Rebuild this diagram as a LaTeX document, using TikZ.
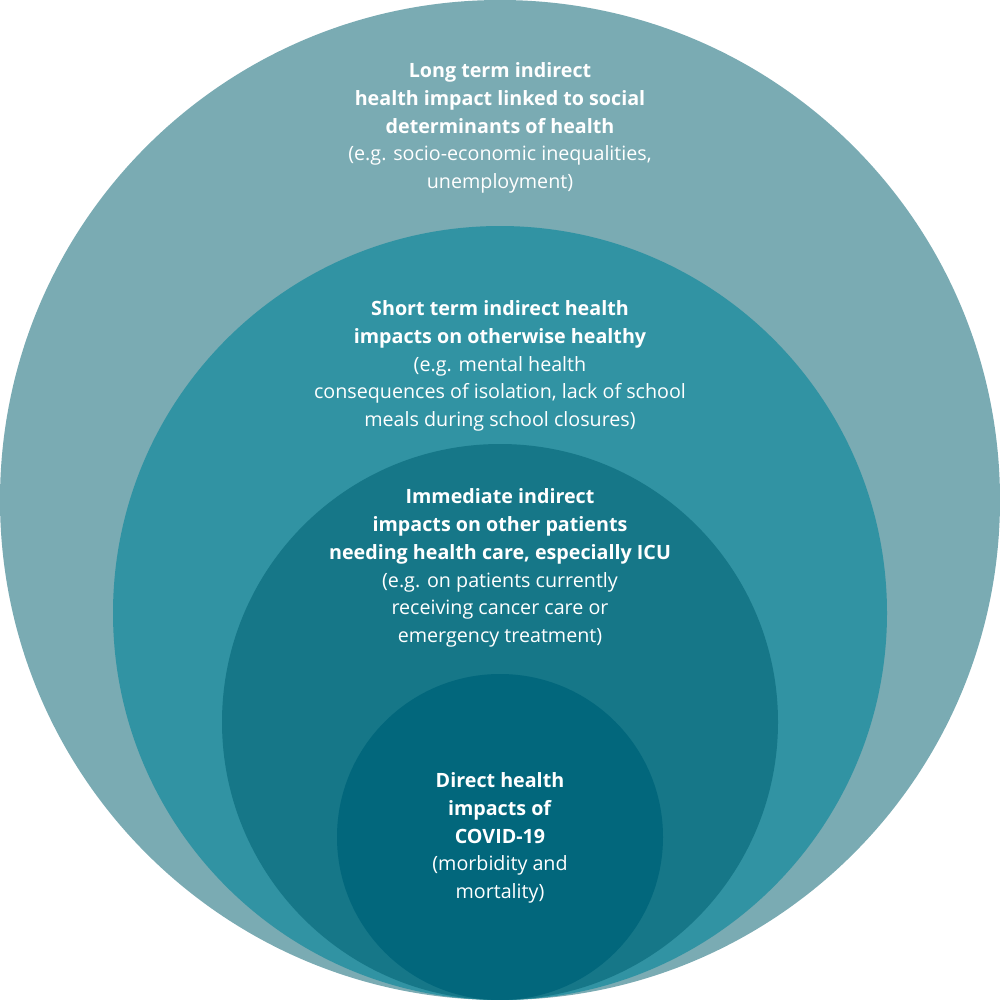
\documentclass[tikz,border=0pt]{standalone}
\usepackage{fontspec}
\setmainfont{Open Sans}
\begin{document}
\begin{tikzpicture}[x=0.01cm,y=-0.01cm,
  txt/.style={text=white,align=center,font=\fontsize{5.6}{7.9}\selectfont}]
\useasboundingbox (0,0) rectangle (1000,1000);
\fill[fill={rgb,255:red,122;green,171;blue,179}] (500,500) circle[radius=500];
\fill[fill={rgb,255:red,49;green,147;blue,163}] (500,613) circle[radius=387];
\fill[fill={rgb,255:red,22;green,119;blue,136}] (500,722) circle[radius=278];
\fill[fill={rgb,255:red,2;green,103;blue,124}] (500,837) circle[radius=163];
\node[txt] (a) at (500,128) {\textbf{Long term indirect}\\\textbf{health impact linked to social}\\\textbf{determinants of health}\\(e.g. socio-economic inequalities,\\unemployment)};
\node[txt] (b) at (500,366) {\textbf{Short term indirect health}\\\textbf{impacts on otherwise healthy}\\(e.g. mental health\\consequences of isolation, lack of school\\meals during school closures)};
\node[txt] (c) at (500,568) {\textbf{Immediate indirect}\\\textbf{impacts on other patients}\\\textbf{needing health care, especially ICU}\\(e.g. on patients currently\\receiving cancer care or\\emergency treatment)};
\node[txt] (d) at (500,838) {\textbf{Direct health}\\\textbf{impacts of}\\\textbf{COVID-19}\\(morbidity and\\mortality)};
\end{tikzpicture}
\end{document}
